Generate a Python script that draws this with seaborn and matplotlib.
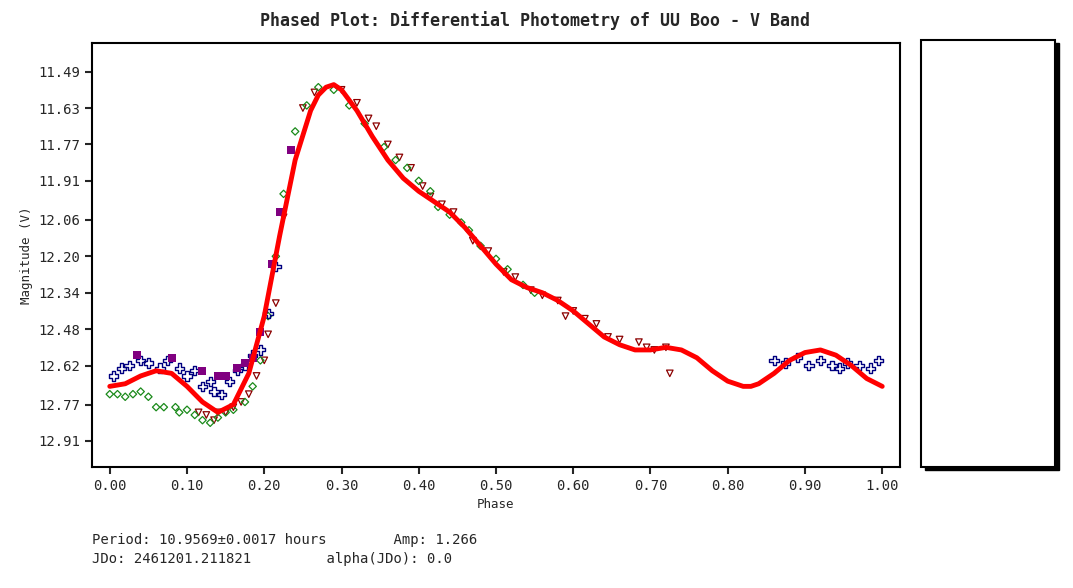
import matplotlib
matplotlib.use("Agg")
import matplotlib.pyplot as plt
import seaborn as sns
import pandas as pd
from matplotlib.patches import Rectangle

# === Dati ===
s1_phase = [0.115, 0.125, 0.135, 0.14, 0.15, 0.16, 0.17, 0.18, 0.19, 0.20, 0.205, 0.215, 0.225, 0.25, 0.265,
            0.30, 0.32, 0.335, 0.345, 0.36, 0.375, 0.39, 0.405, 0.415, 0.43, 0.445, 0.47, 0.49, 0.51, 0.525,
            0.545, 0.56, 0.58, 0.59, 0.60, 0.615, 0.63, 0.645, 0.66, 0.685, 0.695, 0.705, 0.72, 0.725]
s1_mag = [12.80, 12.81, 12.83, 12.80, 12.80, 12.78, 12.76, 12.73, 12.66, 12.60, 12.50, 12.38, 12.05, 11.63, 11.57,
          11.56, 11.61, 11.67, 11.70, 11.77, 11.82, 11.86, 11.93, 11.97, 12.00, 12.03, 12.14, 12.18, 12.26, 12.28,
          12.33, 12.35, 12.37, 12.43, 12.41, 12.44, 12.46, 12.51, 12.52, 12.53, 12.55, 12.56, 12.55, 12.65]
s2_phase = [0.00, 0.01, 0.02, 0.03, 0.04, 0.05, 0.06, 0.07, 0.085, 0.09, 0.10, 0.11, 0.12, 0.13, 0.14, 0.15,
            0.16, 0.175, 0.185, 0.195, 0.205, 0.215, 0.225, 0.24, 0.255, 0.27, 0.29, 0.31, 0.33, 0.355, 0.37,
            0.385, 0.40, 0.415, 0.425, 0.44, 0.455, 0.465, 0.48, 0.50, 0.515, 0.535, 0.55]
s2_mag = [12.73, 12.73, 12.74, 12.73, 12.72, 12.74, 12.78, 12.78, 12.78, 12.80, 12.79, 12.81, 12.83, 12.84, 12.82, 12.80,
          12.79, 12.76, 12.70, 12.60, 12.43, 12.20, 11.96, 11.72, 11.62, 11.55, 11.56, 11.62, 11.69, 11.78, 11.83,
          11.86, 11.91, 11.95, 12.01, 12.04, 12.07, 12.10, 12.16, 12.21, 12.25, 12.31, 12.34]
s3_phase = [0.005, 0.015, 0.025, 0.04, 0.05, 0.065, 0.075, 0.09, 0.10, 0.11, 0.12, 0.13, 0.135, 0.145, 0.155,
            0.165, 0.175, 0.185, 0.195, 0.205, 0.215, 0.86, 0.875, 0.89, 0.905, 0.92, 0.935, 0.945, 0.955, 0.97, 0.985, 0.995]
s3_mag = [12.66, 12.63, 12.62, 12.60, 12.61, 12.63, 12.60, 12.63, 12.66, 12.64, 12.70, 12.68, 12.72, 12.73, 12.68,
          12.64, 12.62, 12.58, 12.56, 12.42, 12.24, 12.60, 12.61, 12.59, 12.62, 12.60, 12.62, 12.63, 12.61, 12.62, 12.63, 12.60]
s4_phase = [0.035, 0.08, 0.12, 0.14, 0.15, 0.165, 0.175, 0.185, 0.195, 0.21, 0.22, 0.235]
s4_mag = [12.58, 12.59, 12.64, 12.66, 12.66, 12.63, 12.61, 12.59, 12.49, 12.23, 12.03, 11.79]
fit_phase = [0.00, 0.02, 0.04, 0.06, 0.08, 0.10, 0.12, 0.14, 0.16, 0.18, 0.20, 0.22, 0.24, 0.26, 0.27, 0.28, 0.29,
             0.30, 0.32, 0.34, 0.36, 0.38, 0.40, 0.42, 0.44, 0.46, 0.48, 0.50, 0.52, 0.54, 0.56, 0.58,
             0.60, 0.62, 0.64, 0.66, 0.68, 0.70, 0.72, 0.74, 0.76, 0.78, 0.80, 0.82, 0.83, 0.84, 0.86,
             0.88, 0.90, 0.92, 0.94, 0.96, 0.98, 1.00]
fit_mag = [12.70, 12.69, 12.66, 12.64, 12.65, 12.70, 12.76, 12.80, 12.77, 12.65, 12.43, 12.12, 11.83, 11.64, 11.58, 11.55, 11.54,
           11.56, 11.64, 11.74, 11.83, 11.90, 11.95, 11.99, 12.03, 12.09, 12.16, 12.23, 12.29, 12.32, 12.34, 12.37,
           12.41, 12.46, 12.51, 12.54, 12.56, 12.56, 12.55, 12.56, 12.59, 12.64, 12.68, 12.70, 12.70, 12.69, 12.65,
           12.60, 12.57, 12.56, 12.58, 12.62, 12.67, 12.70]

yticks = [11.49, 11.63, 11.77, 11.91, 12.06, 12.20, 12.34, 12.48, 12.62, 12.77, 12.91]

sns.set_style("white")
plt.rcParams['font.family'] = ['DejaVu Sans Mono']

fig = plt.figure(figsize=(10.73, 5.88), dpi=100)
ax = fig.add_axes([92/1073, 1-467/588, 808/1073, 424/588])

df1 = pd.DataFrame({"phase": s1_phase, "mag": s1_mag})
df2 = pd.DataFrame({"phase": s2_phase, "mag": s2_mag})
df3 = pd.DataFrame({"phase": s3_phase, "mag": s3_mag})
df4 = pd.DataFrame({"phase": s4_phase, "mag": s4_mag})
dfit = pd.DataFrame({"phase": fit_phase, "mag": fit_mag})

sns.scatterplot(data=df1, x="phase", y="mag", ax=ax, marker="v", s=22, facecolor="none",
                edgecolor="#8b0000", linewidth=0.9, label="1 06/10")
sns.scatterplot(data=df2, x="phase", y="mag", ax=ax, marker="D", s=14, facecolor="none",
                edgecolor="#1a8a1a", linewidth=0.9, label="2 06/09")
sns.scatterplot(data=df3, x="phase", y="mag", ax=ax, marker="P", s=45, facecolor="none",
                edgecolor="#000080", linewidth=1.0, label="3 06/14")
sns.scatterplot(data=df4, x="phase", y="mag", ax=ax, marker="s", s=40, color="#800080",
                edgecolor="#800080", linewidth=0, label="4 06/13")
sns.lineplot(data=dfit, x="phase", y="mag", ax=ax, color="red", linewidth=3.5, label="6th Order")

ax.set_xlim(-0.023, 1.023)
ax.set_ylim(13.01, 11.38)
ax.set_xticks([i / 10 for i in range(11)])
ax.set_xticklabels([f"{i/10:.2f}" for i in range(11)])
ax.set_yticks(yticks)
ax.set_yticklabels([f"{v:.2f}" for v in yticks])
ax.tick_params(direction="out", length=5, width=1.5, labelsize=10, left=True, bottom=True)
for sp in ax.spines.values():
    sp.set_linewidth(1.5)
    sp.set_color("black")
ax.set_xlabel("Phase", fontsize=9)
ax.set_ylabel("Magnitude (V)", fontsize=9)
fig.text(535/1073, 1-21/588, "Phased Plot: Differential Photometry of UU Boo - V Band",
         ha="center", va="center", fontsize=12, weight="bold")

# riquadro legenda con ombra
fig.patches.append(Rectangle((925/1073, 1-470/588), 134/1073, 427/588, transform=fig.transFigure,
                             facecolor="black", edgecolor="black", zorder=0))
fig.patches.append(Rectangle((921/1073, 1-467/588), 134/1073, 427/588, transform=fig.transFigure,
                             facecolor="white", edgecolor="black", linewidth=1.5, zorder=1))

leg = ax.legend(loc="upper left", bbox_to_anchor=(1.03, 1.0), title="Year: 2026", frameon=False,
                fontsize=10, title_fontsize=10, borderaxespad=0.3, handlelength=1.5, labelspacing=0.75)

fig.text(92/1073, 1-540/588, "Period: 10.9569\u00b10.0017 hours        Amp: 1.266", fontsize=10, va="center")
fig.text(92/1073, 1-559/588, "JDo: 2461201.211821         alpha(JDo): 0.0", fontsize=10, va="center")

fig.savefig("out.png", dpi=100)
